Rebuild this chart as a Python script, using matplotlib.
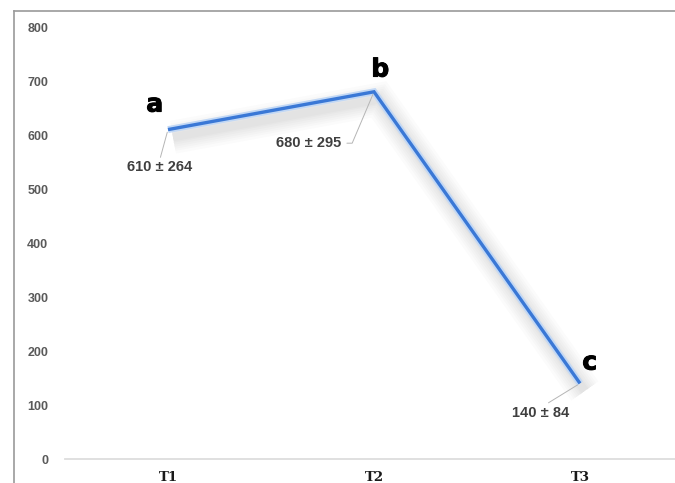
import matplotlib
matplotlib.use("Agg")
import matplotlib.pyplot as plt
import matplotlib.patheffects as pe
from matplotlib.lines import Line2D

categories = ["T1", "T2", "T3"]
means = [610, 680, 140]
sds = [264, 295, 84]
letters = ["a", "b", "c"]
yticks = [0, 100, 200, 300, 400, 500, 600, 700, 800]

W, H = 675, 483
fig = plt.figure(figsize=(W / 100, H / 100), dpi=100)
fig.patch.set_facecolor("white")

# axes: x from 65px to 683px, y from 459px (0) to 27px (800)
ax = fig.add_axes([65 / W, (H - 459) / H, 618 / W, 432 / H])
ax.set_xlim(-0.5, 2.5)
ax.set_ylim(0, 800)
for s in ax.spines.values():
    s.set_visible(False)
ax.set_facecolor("none")

ax.axhline(0, color="#dddddd", lw=1.3, zorder=1, clip_on=False)

ax.set_yticks(yticks)
ax.set_yticklabels([str(v) for v in yticks], fontfamily="Liberation Sans", fontweight="bold",
                   fontsize=9, color="#595959")
ax.tick_params(axis="y", length=0, pad=12)
x = list(range(len(categories)))
ax.set_xticks(x)
ax.set_xticklabels(categories, fontfamily="DejaVu Serif", fontweight="bold",
                   fontsize=9.5, color="#1a1a1a")
ax.tick_params(axis="x", length=0, pad=8.5)

# soft shadow layers
shadow_effects = []
for w_ in [24, 20, 17, 14, 11, 8, 6]:
    shadow_effects.append(pe.SimpleLineShadow(offset=(3.5, -5.5), shadow_color="#000000",
                                              alpha=0.016, linewidth=w_))
line, = ax.plot(x, means, color="#3a78d6", lw=2.4, solid_capstyle="butt",
                solid_joinstyle="miter", zorder=3, clip_on=False,
                path_effects=shadow_effects + [
                    pe.Stroke(linewidth=5, foreground="#c2d8f5"),
                    pe.Normal()])

txt_kw = dict(fontfamily="Liberation Sans", fontweight="bold", fontsize=10.5, color="#3f3f3f")
lead_kw = dict(arrowstyle="-", color="#b5b5b5", lw=0.7, shrinkA=0, shrinkB=2)

# value labels with leader lines (offsets in points)
ax.annotate(f"{means[0]} ± {sds[0]}", xy=(x[0], means[0]), xytext=(-6, -27),
            textcoords="offset points", ha="center", va="center", **txt_kw,
            arrowprops=dict(relpos=(0.5, 1.0), **lead_kw))
ax.annotate(f"{means[1]} ± {sds[1]}", xy=(x[1], means[1]), xytext=(-47, -37),
            textcoords="offset points", ha="center", va="center", **txt_kw,
            arrowprops=dict(relpos=(1.0, 0.5),
                            connectionstyle="angle,angleA=0,angleB=67,rad=0",
                            **{**lead_kw, "shrinkA": 2}))
ax.annotate(f"{means[2]} ± {sds[2]}", xy=(x[2], means[2]), xytext=(-28, -21),
            textcoords="offset points", ha="center", va="center", **txt_kw,
            arrowprops=dict(relpos=(0.55, 1.0), **lead_kw))

# significance letters (heavy)
let_kw = dict(fontfamily="DejaVu Sans", fontweight="bold", fontsize=18, color="black",
              ha="center", va="center", textcoords="offset points",
              path_effects=[pe.withStroke(linewidth=0.7, foreground="black")])
ax.annotate(letters[0], xy=(x[0], means[0]), xytext=(-9.5, 18), **let_kw)
ax.annotate(letters[1], xy=(x[1], means[1]), xytext=(4.5, 16), **let_kw)
ax.annotate(letters[2], xy=(x[2], means[2]), xytext=(7, 15), **let_kw)

# figure border (top and left)
fig.add_artist(Line2D([14 / W, 1.0], [(H - 11) / H, (H - 11) / H],
                      transform=fig.transFigure, color="#9a9a9a", lw=1.2))
fig.add_artist(Line2D([14 / W, 14 / W], [(H - 11) / H, 0.0],
                      transform=fig.transFigure, color="#9a9a9a", lw=1.2))

fig.savefig("out.png", dpi=100, facecolor="white")
